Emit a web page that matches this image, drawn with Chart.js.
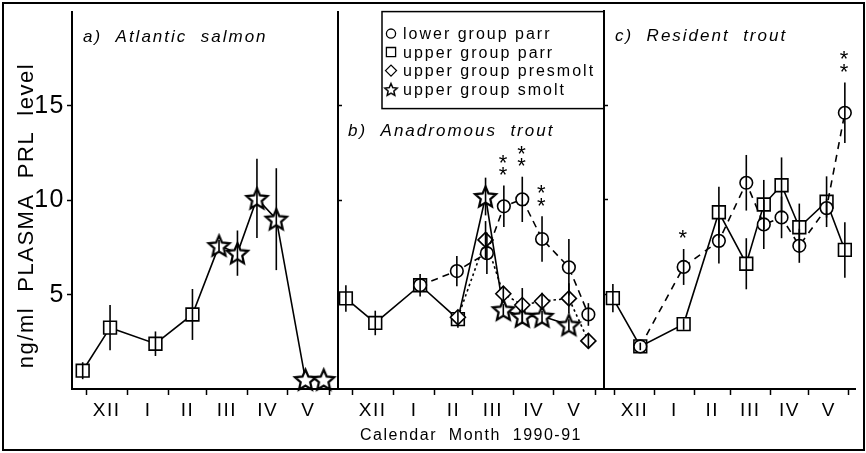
<!DOCTYPE html>
<html>
<head>
<meta charset="utf-8">
<script src="https://cdn.jsdelivr.net/npm/chart.js@4.4.1/dist/chart.umd.min.js"></script>
<style>
  html, body { margin: 0; padding: 0; background: #fff; }
  #fig { position: relative; width: 866px; height: 453px; }
  #fig canvas { position: absolute; left: 0; top: 0; }
  #frame { position: absolute; left: 2px; top: 2px; width: 863px; height: 449px; box-sizing: border-box; border: 2px solid #000; }
</style>
</head>
<body>
<div id="fig">
  <div id="frame"></div>
  <canvas id="salmonChart" width="866" height="453"></canvas>
  <canvas id="anadromousChart" width="866" height="453"></canvas>
  <canvas id="residentChart" width="866" height="453"></canvas>
</div>
<script>
// x values are days counted from 1 Dec 1990
const monthStarts = [0, 31, 62, 90, 121, 151, 182]
const monthMids = [15.5, 46.5, 76, 105.5, 136, 166.5]
const monthNames = ['XII', 'I', 'II', 'III', 'IV', 'V']
const yTicks = [5, 10, 15]

const legendLabels = ['lower group parr', 'upper group parr', 'upper group presmolt', 'upper group smolt']

// a) Atlantic salmon
const salmonParrDays = [-2.5, 18, 52, 79.7]
const salmonParrValues = [0.97, 3.25, 2.4, 3.95]
const salmonParrErr = [0.45, 1.2, 0.65, 1.35]
const salmonSmoltDays = [99.6, 113.4, 128, 142.5, 164.3, 178]
const salmonSmoltValues = [7.6, 7.2, 10.1, 9.0, 0.5, 0.5]
const salmonSmoltErr = [0.3, 1.2, 2.1, 2.7, 0, 0]

// b) Anadromous trout
const anaLowerParrDays = [51, 78.5, 101, 113.7, 127.5, 142.3, 162.4, 177]
const anaLowerParrValues = [5.5, 6.25, 7.2, 9.68, 10.05, 7.95, 6.45, 3.95]
const anaLowerParrErr = [0, 0.8, 1.1, 1.1, 1.2, 1.2, 1.5, 0.6]
const anaLowerParrSig = [0, 0, 0, 2, 2, 2, 0, 0]
const anaUpperParrDays = [-4.6, 17.4, 51, 79.3]
const anaUpperParrValues = [4.8, 3.5, 5.5, 3.7]
const anaUpperParrErr = [0.7, 0.65, 0.6, 0.45]
const anaPresmoltDays = [79.3, 100, 113.3, 127.5, 142.3, 162.4, 177]
const anaPresmoltValues = [3.8, 7.9, 5.05, 4.45, 4.65, 4.8, 2.55]
const anaPresmoltErr = [0, 1.0, 0.4, 0.9, 0.45, 0.8, 0.4]
const anaSmoltDays = [100, 113.3, 127.5, 142.3, 162.4]
const anaSmoltValues = [10.2, 4.2, 3.85, 3.85, 3.4]
const anaSmoltErr = [1.0, 0.3, 0.4, 0.3, 0.3]

// c) Resident trout
const resLowerParrDays = [20, 53.7, 81.1, 102.4, 116, 129.8, 143.6, 164.8, 179]
const resLowerParrValues = [2.25, 6.45, 7.83, 10.9, 8.7, 9.07, 7.57, 9.56, 14.6]
const resLowerParrErr = [0, 0.95, 1.2, 1.47, 1.3, 1.1, 0.9, 0.5, 1.6]
const resLowerParrSig = [0, 1, 0, 0, 0, 0, 0, 0, 2]
const resUpperParrDays = [-1.3, 20, 53.7, 81.1, 102.4, 116, 129.8, 143.6, 164.8, 179]
const resUpperParrValues = [4.8, 2.25, 3.43, 9.34, 6.62, 9.75, 10.77, 8.55, 9.9, 7.35]
const resUpperParrErr = [0.75, 0.2, 0.3, 1.35, 1.35, 1.3, 1.47, 1.25, 1.34, 1.47]

Chart.defaults.font.family = '"Liberation Sans", Arial, sans-serif'
Chart.defaults.color = '#000'

function makeStar(outer, inner, lw) {
  const c = document.createElement('canvas')
  const size = Math.ceil(outer * 2 + lw * 2 + 2)
  c.width = size
  c.height = size
  const ctx = c.getContext('2d')
  ctx.beginPath()
  for (let i = 0; i < 10; i++) {
    const r = i % 2 === 0 ? outer : inner
    const a = -Math.PI / 2 + i * Math.PI / 5
    const px = size / 2 + r * Math.cos(a)
    const py = size / 2 + 1 + r * Math.sin(a)
    if (i === 0) ctx.moveTo(px, py)
    else ctx.lineTo(px, py)
  }
  ctx.closePath()
  ctx.fillStyle = '#fff'
  ctx.fill()
  ctx.lineWidth = lw
  ctx.lineJoin = 'miter'
  ctx.strokeStyle = '#000'
  ctx.stroke()
  return c
}

const starMark = makeStar(11, 5, 2.2)
const starLegend = makeStar(6.5, 3, 1.5)

const markRadius = { circle: 6.3, rect: 9, rectRot: 7.5 }

function points(days, values) {
  return days.map((d, i) => ({ x: d, y: values[i] }))
}

function series(groups, dash) {
  // groups: [{days, values, errors, sig, style}], joined into one line
  const data = []
  const errors = []
  const sig = []
  const styles = []
  groups.forEach(g => {
    data.push(...points(g.days, g.values))
    errors.push(...g.errors)
    sig.push(...(g.sig || g.days.map(() => 0)))
    styles.push(...g.days.map(() => g.style))
  })
  return {
    data: data,
    errors: errors,
    sig: sig,
    borderColor: '#000',
    borderWidth: 1.6,
    borderDash: dash || [],
    tension: 0,
    pointStyle: styles.map(s => s === 'star' ? starMark : s),
    pointRadius: styles.map(s => markRadius[s] || 10),
    pointBorderWidth: 1.6,
    pointBorderColor: '#000',
    pointBackgroundColor: '#fff'
  }
}

const spacing = {
  id: 'spacing',
  beforeDraw(chart) {
    chart.ctx.letterSpacing = '1.5px'
  }
}

const errorBars = {
  id: 'errorBars',
  afterDatasetsDraw(chart) {
    const { ctx } = chart
    const y = chart.scales.y
    ctx.save()
    ctx.strokeStyle = '#000'
    ctx.lineWidth = 1.6
    ctx.fillStyle = '#000'
    ctx.font = '22px "Liberation Sans", Arial, sans-serif'
    ctx.textAlign = 'center'
    ctx.textBaseline = 'alphabetic'
    chart.data.datasets.forEach((ds, i) => {
      if (!ds.errors) return
      chart.getDatasetMeta(i).data.forEach((pt, j) => {
        const v = ds.data[j].y
        const e = ds.errors[j]
        const top = y.getPixelForValue(v + e)
        if (e) {
          ctx.beginPath()
          ctx.moveTo(pt.x, y.getPixelForValue(v - e))
          ctx.lineTo(pt.x, top)
          ctx.stroke()
        }
        const n = ds.sig ? ds.sig[j] : 0
        for (let k = 0; k < n; k++) {
          const cy = top - 16 - k * 12.5
          ctx.fillText('*', pt.x, cy + 12.5)
        }
      })
    })
    ctx.restore()
  }
}

const panelText = {
  id: 'panelText',
  afterDraw(chart, args, opts) {
    if (!opts.text) return
    const { ctx, chartArea } = chart
    ctx.save()
    ctx.fillStyle = '#000'
    ctx.letterSpacing = '2px'
    ctx.font = 'italic 17px "Liberation Sans", Arial, sans-serif'
    ctx.textBaseline = 'alphabetic'
    ctx.fillText(opts.text, chartArea.left + opts.dx, chartArea.top + opts.dy)

    if (opts.legend) {
      const left = chartArea.left + 44
      const right = chartArea.right
      const top = chartArea.top
      const bottom = chartArea.top + 97
      ctx.fillStyle = '#fff'
      ctx.fillRect(left, top, right - left, bottom - top)
      ctx.strokeStyle = '#000'
      ctx.lineWidth = 1.5
      ctx.strokeRect(left, top, right - left, bottom - top)
      const styles = ['circle', 'rect', 'rectRot', starLegend]
      const radius = [4.6, 6.5, 5.5, 6]
      ctx.letterSpacing = '2px'
      ctx.font = '16px "Liberation Sans", Arial, sans-serif'
      ctx.textBaseline = 'middle'
      opts.legend.forEach((label, i) => {
        const yy = top + 22 + i * 18.5
        ctx.fillStyle = '#fff'
        ctx.strokeStyle = '#000'
        ctx.lineWidth = 1.3
        Chart.helpers.drawPoint(ctx, { pointStyle: styles[i], radius: radius[i], borderWidth: 1.3, rotation: 0 }, left + 9, yy)
        ctx.fillStyle = '#000'
        ctx.fillText(label, left + 21, yy + 1)
      })
    }
    ctx.restore()
  }
}

Chart.register(spacing, errorBars, panelText)

const monthTicks = monthStarts.concat(monthMids).sort((a, b) => a - b)

function xAxis(min, max, title) {
  return {
    type: 'linear',
    min: min,
    max: max,
    afterBuildTicks: s => { s.ticks = monthTicks.map(v => ({ value: v })) },
    afterFit: s => { s.height = 64; s.paddingLeft = 0; s.paddingRight = 0 },
    grid: {
      drawOnChartArea: false,
      tickLength: 6,
      tickWidth: 1.5,
      tickColor: c => monthStarts.includes(c.tick.value) ? '#000' : 'rgba(0,0,0,0)'
    },
    border: { color: '#000', width: 2 },
    ticks: {
      autoSkip: false,
      maxRotation: 0,
      padding: 4,
      font: { size: 19 },
      callback: v => {
        const i = monthMids.indexOf(v)
        return i < 0 ? '' : monthNames[i]
      }
    },
    title: {
      display: !!title,
      text: title || '',
      font: { size: 16 },
      padding: { top: 0, bottom: 8 }
    }
  }
}

function yAxis(withLabels) {
  return {
    min: 0,
    max: 20,
    afterBuildTicks: s => { s.ticks = yTicks.map(v => ({ value: v })) },
    afterFit: s => { s.width = withLabels ? 72 : 0; s.paddingTop = 0; s.paddingBottom = 0 },
    grid: { drawOnChartArea: false, tickLength: withLabels ? 5 : -4, tickWidth: 1.5, tickColor: '#000' },
    border: { color: '#000', width: 2 },
    ticks: { display: withLabels, font: { size: 25 }, padding: 2 },
    title: {
      display: withLabels,
      text: 'ng/ml  PLASMA  PRL  level\u00a0\u00a0\u00a0\u00a0',
      font: { size: 22 },
      padding: { top: 14, bottom: 0 }
    }
  }
}

function baseOptions(padding, xMin, xMax, xTitle, yLabels, text) {
  return {
    responsive: false,
    animation: false,
    layout: { padding: padding },
    clip: false,
    scales: {
      x: xAxis(xMin, xMax, xTitle),
      y: yAxis(yLabels)
    },
    plugins: {
      legend: { display: false },
      tooltip: { enabled: false },
      panelText: text
    }
  }
}

new Chart(document.getElementById('salmonChart'), {
  type: 'line',
  data: {
    datasets: [
      series([
        { days: salmonParrDays, values: salmonParrValues, errors: salmonParrErr, style: 'rect' },
        { days: salmonSmoltDays, values: salmonSmoltValues, errors: salmonSmoltErr, style: 'star' }
      ])
    ]
  },
  options: baseOptions({ left: 0, right: 866 - 338, top: 3, bottom: 0 }, -10.5, 188.7, null, true,
    { text: 'a)  Atlantic  salmon', dx: 11, dy: 30 })
})

new Chart(document.getElementById('anadromousChart'), {
  type: 'line',
  data: {
    datasets: [
      series([
        { days: anaLowerParrDays, values: anaLowerParrValues, errors: anaLowerParrErr, sig: anaLowerParrSig, style: 'circle' }
      ], [7, 5]),
      series([
        { days: anaPresmoltDays, values: anaPresmoltValues, errors: anaPresmoltErr, style: 'rectRot' }
      ], [2.5, 3]),
      series([
        { days: anaUpperParrDays, values: anaUpperParrValues, errors: anaUpperParrErr, style: 'rect' },
        { days: anaSmoltDays, values: anaSmoltValues, errors: anaSmoltErr, style: 'star' }
      ])
    ]
  },
  options: baseOptions({ left: 338, right: 866 - 604, top: 3, bottom: 0 }, -10.5, 188.7, 'Calendar  Month  1990-91', false,
    { text: 'b)  Anadromous  trout', dx: 10, dy: 124, legend: legendLabels })
})

new Chart(document.getElementById('residentChart'), {
  type: 'line',
  data: {
    datasets: [
      series([
        { days: resLowerParrDays, values: resLowerParrValues, errors: resLowerParrErr, sig: resLowerParrSig, style: 'circle' }
      ], [7, 6]),
      series([
        { days: resUpperParrDays, values: resUpperParrValues, errors: resUpperParrErr, style: 'rect' }
      ])
    ]
  },
  options: baseOptions({ left: 604, right: 2, top: 3, bottom: 0 }, -8.2, 187.2, null, false,
    { text: 'c)  Resident  trout', dx: 11, dy: 30 })
})
</script>
</body>
</html>
